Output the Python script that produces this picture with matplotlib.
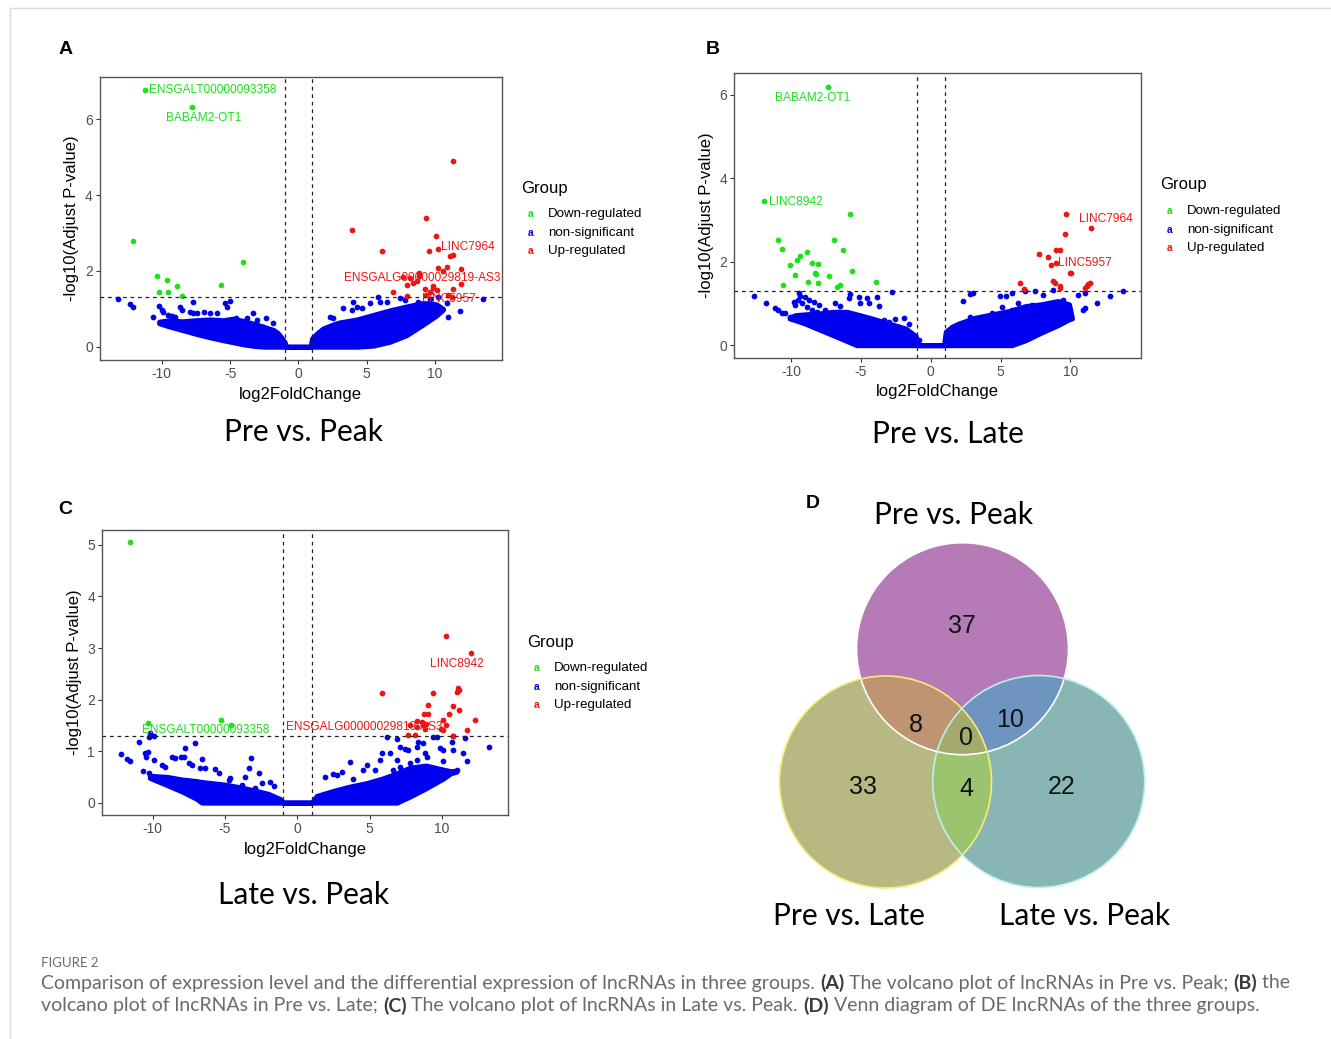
import matplotlib

matplotlib.use("Agg")
import matplotlib.pyplot as plt
import numpy as np

W, H = 1331, 1039
BLUE, GREEN, RED = "#0000F0", "#1EE01E", "#F01414"
FONT = ["Liberation Sans", "DejaVu Sans"]
TITLE_FONT = ["Lato", "DejaVu Sans"]

plt.rcParams["font.family"] = FONT
plt.rcParams["axes.unicode_minus"] = False

# ---- panel A: Pre vs. Peak ----
A_CORE_X = [-10.2, -9.5, -8.5, -7.5, -6.5, -5.5, -4.8, -4.0, -3.2, -2.5, -1.8, -1.4, -1.0, -0.9,
            0.0, 0.9, 1.0, 1.4, 1.8, 2.5, 3.0, 4.3, 5.5, 6.7, 7.9, 9.2, 10.1, 10.6]
A_CORE_HI = [0.66, 0.70, 0.67, 0.70, 0.72, 0.70, 0.74, 0.68, 0.60, 0.52, 0.44, 0.32, 0.12, 0.0,
             0.0, 0.0, 0.22, 0.36, 0.48, 0.58, 0.64, 0.72, 0.84, 0.96, 1.06, 1.16, 1.12, 1.00]
A_CORE_LO = [0.62, 0.54, 0.44, 0.34, 0.25, 0.17, 0.12, 0.06, 0.02, 0.0, 0.0, 0.0, 0.0, 0.0,
             0.0, 0.0, 0.0, 0.0, 0.0, 0.0, 0.0, 0.0, 0.03, 0.13, 0.30, 0.60, 0.82, 0.98]
A_BLUE_X = [-13.19, -12.33, -12.13, -10.62, -10.18, -10.00, -9.89, -9.52, -9.27, -9.03, -8.67,
            -8.54, -7.93, -7.69, -7.74, -7.44, -6.89, -6.47, -5.98, -5.37, -5.25, -5.00, -4.56,
            -3.78, -3.34, -3.05, -2.37, -1.88, -2.56, -2.31, -1.58,
            4.03, 4.28, 4.64, 5.25, 5.86, 5.99, 6.48, 2.32, 2.56, 3.30, 3.91, 7.45, 7.82, 11.85,
            13.55, 10.87, 8.79, 9.65, 6.72, 7.45, 10.99, 9.04, 9.89, 10.26]
A_BLUE_Y = [1.26, 1.13, 1.06, 0.78, 1.07, 0.97, 0.92, 0.84, 0.81, 0.78, 1.06,
            0.97, 0.92, 0.88, 1.19, 0.88, 0.92, 0.88, 0.90, 1.15, 1.06, 1.21, 0.75,
            0.75, 0.88, 0.70, 0.75, 0.62, 0.53, 0.44, 0.35,
            1.19, 1.06, 1.01, 1.15, 1.32, 1.19, 1.19, 0.79, 0.77, 1.01, 0.97, 1.28, 1.23, 0.94,
            1.25, 1.15, 1.19, 1.25, 0.92, 0.88, 0.79, 1.10, 1.10, 1.32]
A_GREEN_X = [-11.23, -7.81, -12.09, -10.37, -9.60, -8.86, -10.18, -9.52, -8.54, -5.69, -4.03]
A_GREEN_Y = [6.77, 6.33, 2.80, 1.87, 1.76, 1.60, 1.45, 1.43, 1.35, 1.63, 2.24]
A_RED_X = [11.36, 9.33, 10.09, 3.91, 6.11, 9.58, 10.26, 11.11, 11.36, 10.26, 10.62, 10.92,
           11.92, 11.92, 8.87, 8.87, 7.69, 8.18, 8.42, 8.67, 7.94, 6.96, 7.94, 9.28, 9.65,
           9.89, 10.14, 11.36, 10.99, 11.24, 9.85, 9.36]
A_RED_Y = [4.90, 3.40, 2.93, 3.08, 2.53, 2.53, 2.59, 2.40, 2.42, 2.08, 2.00, 2.09,
           2.05, 1.65, 1.95, 1.87, 1.85, 1.80, 1.67, 1.72, 1.63, 1.45, 1.35, 1.51, 1.45,
           1.54, 1.50, 1.52, 1.36, 1.32, 1.60, 1.36]
A_LABELS = [("ENSGALT00000093358", -10.95, 6.77, "left", GREEN),
            ("BABAM2-OT1", -6.96, 6.03, "center", GREEN),
            ("LINC7964", 10.45, 2.64, "left", RED),
            ("ENSGALG00000029819-AS3", 3.37, 1.80, "left", RED),
            ("LINC5957", 9.04, 1.25, "left", RED)]

# ---- panel B: Pre vs. Late ----
B_CORE_X = [-10.1, -9.7, -9.0, -8.0, -7.0, -6.0, -5.3, -4.2, -3.0, -1.8, -1.08, -0.95, 0.0,
            0.95, 1.07, 1.5, 2.0, 3.2, 4.4, 5.6, 5.8, 6.8, 7.9, 9.1, 9.9, 10.1]
B_CORE_HI = [0.66, 0.72, 0.74, 0.76, 0.80, 0.80, 0.74, 0.64, 0.52, 0.40, 0.22, 0.0, 0.0,
             0.0, 0.32, 0.44, 0.52, 0.66, 0.74, 0.82, 0.84, 0.94, 0.98, 1.06, 0.98, 0.66]
B_CORE_LO = [0.64, 0.60, 0.52, 0.38, 0.24, 0.10, 0.0, 0.0, 0.0, 0.0, 0.0, 0.0, 0.0,
             0.0, 0.0, 0.0, 0.0, 0.0, 0.0, 0.0, 0.0, 0.12, 0.30, 0.48, 0.62, 0.64]
B_BLUE_X = [-12.67, -11.77, -11.12, -10.93, -10.64, -10.40, -10.05, -9.45, -9.33, -9.50, -9.21,
            -8.85, -8.50, -8.14, -9.81, -9.69, -8.98, -8.69, -8.38, -8.02, -7.54, -6.83, -6.47,
            -6.59, -5.75, -5.87, -5.15, -5.04, -4.56, -4.44, -3.72, -3.84, -2.77, -3.37, -3.01,
            -2.53, -1.93, -1.57, -2.29, -0.86,
            2.33, 2.81, 3.05, 2.81, 3.17, 2.69, 4.96, 5.39, 5.84, 6.75, 7.47, 8.06, 8.78, 10.57,
            11.05, 12.83, 13.74, 11.93, 10.93, 11.05, 9.85, 6.27, 7.23, 5.08, 5.80, 4.37, 7.95,
            8.90, 9.49]
B_BLUE_Y = [1.18, 1.02, 0.90, 0.85, 0.78, 0.76, 0.68, 1.24, 1.18, 1.08, 1.00,
            0.92, 0.84, 0.80, 1.04, 0.96, 1.16, 1.08, 1.04, 0.96, 0.84, 1.00, 0.94,
            0.80, 1.22, 1.12, 1.16, 1.00, 1.14, 1.00, 0.94, 1.16, 1.28, 0.60, 0.56,
            0.64, 0.66, 0.52, 0.44, 0.12,
            1.06, 1.22, 1.26, 0.68, 0.60, 0.52, 1.18, 1.18, 1.26, 1.30, 1.30, 1.20, 1.32, 1.20,
            1.24, 1.18, 1.30, 1.02, 0.84, 0.88, 0.76, 1.00, 0.96, 0.92, 0.84, 0.76, 0.84,
            0.92, 1.08]
B_GREEN_X = [-7.37, -11.93, -5.75, -10.91, -6.92, -10.64, -6.26, -8.88, -9.36, -9.59, -10.07,
             -8.52, -8.04, -8.28, -8.21, -9.71, -7.26, -5.61, -10.55, -8.76, -8.04, -6.73,
             -6.49, -3.94]
B_GREEN_Y = [6.18, 3.46, 3.14, 2.52, 2.52, 2.30, 2.28, 2.24, 2.14, 2.04, 1.92,
             1.98, 1.94, 1.74, 1.70, 1.68, 1.66, 1.78, 1.44, 1.52, 1.50, 1.40,
             1.44, 1.52]
B_RED_X = [9.69, 11.45, 9.61, 7.75, 8.95, 9.26, 8.42, 8.95, 8.61, 9.97, 10.04, 6.39, 6.70,
           8.78, 8.90, 9.26, 9.26, 11.17, 11.28, 11.40, 11.05]
B_RED_Y = [3.14, 2.82, 2.66, 2.18, 2.28, 2.28, 2.12, 1.96, 1.92, 1.74, 1.72, 1.48, 1.35,
           1.54, 1.50, 1.42, 1.36, 1.42, 1.46, 1.48, 1.38]
B_LABELS = [("BABAM2-OT1", -8.47, 5.92, "center", GREEN),
            ("LINC8942", -11.57, 3.44, "left", GREEN),
            ("LINC7964", 10.62, 3.02, "left", RED),
            ("LINC5957", 9.14, 1.96, "left", RED)]

# ---- panel C: Late vs. Peak ----
C_CORE_X = [-10.2, -9.0, -8.0, -7.0, -6.6, -5.0, -4.0, -3.0, -2.0, -1.2, -1.0, 0.0, 1.0, 1.34,
            2.5, 3.6, 4.8, 5.9, 6.9, 7.1, 7.8, 8.9, 10.1, 10.6, 11.0]
C_CORE_HI = [0.52, 0.50, 0.45, 0.42, 0.40, 0.35, 0.30, 0.24, 0.17, 0.07, 0.0, 0.0, 0.0, 0.13,
             0.23, 0.31, 0.38, 0.47, 0.57, 0.60, 0.68, 0.72, 0.64, 0.61, 0.62]
C_CORE_LO = [0.48, 0.34, 0.22, 0.08, 0.0, 0.0, 0.0, 0.0, 0.0, 0.0, 0.0, 0.0, 0.0, 0.0,
             0.0, 0.0, 0.0, 0.0, 0.0, 0.03, 0.12, 0.28, 0.47, 0.57, 0.60]
C_BLUE_X = [-10.96, -10.27, -9.88, -10.16, -12.16, -11.77, -11.54, -10.55, -10.34, -10.46,
            -9.93, -10.66, -10.27, -9.93, -9.70, -9.35, -9.12, -8.66, -8.43, -8.02, -7.85,
            -7.74, -7.09, -7.46, -7.28, -6.59, -6.70, -6.40, -5.67, -5.43, -4.63, -4.74,
            -3.36, -3.20, -2.67, -1.87, -2.44, -1.63, -3.59, -3.82, -2.90, -1.29,
            6.22, 6.87, 7.10, 5.83, 6.41, 7.44, 7.67, 8.25, 8.36, 8.71, 8.94, 8.83, 9.40, 9.63,
            9.86, 10.09, 10.67, 10.78, 11.59, 11.47, 11.75, 13.25, 10.09, 11.02, 3.64, 3.07,
            4.80, 1.91, 2.49, 3.87, 4.56, 5.37, 5.72, 6.63, 7.10, 7.79, 8.25, 6.87, 10.78, 2.72]
C_BLUE_Y = [1.18, 1.28, 1.29, 1.35, 0.94, 0.84, 0.81, 0.96, 0.98, 0.89,
            0.83, 0.62, 0.57, 0.49, 0.44, 0.73, 0.70, 0.89, 0.86, 0.89, 0.89,
            1.06, 1.15, 0.76, 0.73, 0.84, 0.67, 0.67, 0.65, 0.57, 0.47, 0.44,
            0.67, 0.86, 0.58, 0.41, 0.38, 0.32, 0.50, 0.34, 0.28, 0.07,
            1.28, 1.23, 1.08, 0.96, 0.96, 1.04, 1.02, 1.08, 1.18, 1.16, 0.89, 0.96, 1.28, 1.27,
            1.06, 1.02, 1.18, 1.02, 1.25, 0.96, 0.80, 1.07, 0.80, 0.63, 0.78, 0.60,
            0.73, 0.49, 0.55, 0.46, 0.63, 0.63, 0.83, 0.63, 0.70, 0.76, 0.83, 0.83, 1.30, 0.54]
C_GREEN_X = [-11.56, -10.30, -5.29, -4.58]
C_GREEN_Y = [5.05, 1.55, 1.60, 1.50]
C_RED_X = [10.28, 11.98, 5.83, 9.36, 11.13, 11.17, 11.06, 9.05, 10.74, 10.48, 11.20, 8.76,
           9.05, 12.28, 8.25, 8.60, 8.71, 8.89, 8.25, 7.79, 8.83, 10.09, 10.28, 9.91, 10.09,
           11.71, 10.74, 7.67, 8.13]
C_RED_Y = [3.24, 2.90, 2.12, 2.12, 2.22, 2.19, 2.15, 1.90, 1.88, 1.72, 1.80, 1.72,
           1.72, 1.60, 1.59, 1.57, 1.51, 1.53, 1.47, 1.51, 1.42, 1.60, 1.51, 1.42, 1.40,
           1.41, 1.30, 1.31, 1.31]
C_LABELS = [("ENSGALT00000093358", -10.75, 1.41, "left", GREEN),
            ("ENSGALG00000029819-AS3", -0.78, 1.47, "left", RED),
            ("LINC8942", 9.17, 2.69, "left", RED)]

# ---- panel D: Venn ----
VENN_SETS = ["Pre vs. Peak", "Pre vs. Late", "Late vs. Peak"]
VENN_ONLY = [37, 33, 22]
VENN_PAIRS = [8, 10, 4]  # Peak&PreLate, Peak&LatePeak, PreLate&LatePeak
VENN_ALL = 0

LEGEND_ITEMS = [("Down-regulated", GREEN), ("non-significant", BLUE), ("Up-regulated", RED)]


def px_axes(fig, left, top, right, bottom):
    return fig.add_axes([left / W, 1 - bottom / H, (right - left) / W, (bottom - top) / H])


def ftext(fig, x, y, s, **kw):
    return fig.text(x / W, 1 - y / H, s, **kw)


def volcano(ax, xlim, ylim, yticks, core, blue, green, red, labels):
    cx, chi, clo = core
    ax.fill_between(cx, clo, chi, color=BLUE, linewidth=3.6, edgecolor=BLUE, zorder=2)
    ax.scatter(blue[0], blue[1], s=17, color=BLUE, linewidths=0, zorder=3)
    ax.scatter(green[0], green[1], s=17, color=GREEN, linewidths=0, zorder=3)
    ax.scatter(red[0], red[1], s=17, color=RED, linewidths=0, zorder=3)
    dash = dict(color="#222222", linewidth=0.9, linestyle=(0, (3, 3)), zorder=4)
    ax.axvline(-1, **dash)
    ax.axvline(1, **dash)
    ax.axhline(-np.log10(0.05), **dash)
    for text, x, y, ha, col in labels:
        ax.text(x, y, text, color=col, fontsize=8.6, ha=ha, va="center", zorder=5)
    ax.set_xlim(*xlim)
    ax.set_ylim(*ylim)
    ax.set_xticks([-10, -5, 0, 5, 10])
    ax.set_yticks(yticks)
    ax.tick_params(length=3.2, width=0.8, color="#333333", labelcolor="#4D4D4D",
                   labelsize=10, pad=2)
    for sp in ax.spines.values():
        sp.set_color("#555555")
        sp.set_linewidth(1.0)
    ax.set_xlabel("log2FoldChange", fontsize=12, labelpad=4)
    ax.set_ylabel("-log10(Adjust P-value)", fontsize=12, labelpad=4)


def group_legend(fig, x, y):
    ftext(fig, x, y, "Group", fontsize=12, va="center")
    for i, (name, col) in enumerate(LEGEND_ITEMS):
        yy = y + 26 + i * 18.7
        ftext(fig, x + 10, yy, "a", color=col, fontsize=7.5, fontweight="bold",
              ha="center", va="center")
        ftext(fig, x + 27, yy, name, fontsize=9.6, va="center")


def venn(fig):
    ax = px_axes(fig, 770, 535, 1160, 895)
    ax.set_xlim(770, 1160)
    ax.set_ylim(895, 535)
    ax.axis("off")
    r = 106
    centers = [(962.5, 648.7), (885.5, 782.0), (1038.7, 781.5)]
    xs = np.linspace(770, 1160, 1170)
    ys = np.linspace(535, 895, 1080)
    gx, gy = np.meshgrid(xs, ys)
    inside = [(gx - cx) ** 2 + (gy - cy) ** 2 <= r * r for cx, cy in centers]
    img = np.ones(gx.shape + (4,))
    img[..., 3] = 0
    colours = {
        (1, 0, 0): "#B77BB7", (0, 1, 0): "#B9B983", (0, 0, 1): "#87B6B4",
        (1, 1, 0): "#BE9574", (1, 0, 1): "#6E95C0", (0, 1, 1): "#9CC46E",
        (1, 1, 1): "#A3AA6C",
    }
    for key, col in colours.items():
        mask = np.ones(gx.shape, bool)
        for flag, m in zip(key, inside):
            mask &= m if flag else ~m
        img[mask] = matplotlib.colors.to_rgba(col)
    ax.imshow(img, extent=(770, 1160, 895, 535), origin="upper", interpolation="bilinear",
              aspect="auto", zorder=1)
    for (cx, cy), ec in zip(centers, ["#FFFFFF", "#F4EE78", "#BDEFEF"]):
        ax.add_patch(plt.Circle((cx, cy), r, fill=False, ec=ec, lw=1.2, zorder=2))
    num = dict(fontsize=18, ha="center", va="center", color="#111111", zorder=3)
    ax.text(962.3, 625.7, str(VENN_ONLY[0]), **num)
    ax.text(863.3, 787.3, str(VENN_ONLY[1]), **num)
    ax.text(1061.7, 787.3, str(VENN_ONLY[2]), **num)
    ax.text(915.7, 725.0, str(VENN_PAIRS[0]), **num)
    ax.text(1010.0, 720.0, str(VENN_PAIRS[1]), **num)
    ax.text(966.0, 789.3, str(VENN_PAIRS[2]), **num)
    ax.text(966.0, 737.7, str(VENN_ALL), **num)
    title = dict(fontsize=21.5, ha="center", va="center", family=TITLE_FONT)
    ftext(fig, 953.3, 515, VENN_SETS[0], **title)
    ftext(fig, 849.0, 916, VENN_SETS[1], **title)
    ftext(fig, 1084.7, 916, VENN_SETS[2], **title)


def caption(fig):
    renderer = fig.canvas.get_renderer()
    grey = "#6A6A6A"
    ftext(fig, 41, 963, "FIGURE 2", fontsize=9.5, color="#6A6A6A", va="center",
          family=TITLE_FONT)
    lines = [
        (983, [("Comparison of expression level and the differential expression of lncRNAs in "
                "three groups. ", False), ("(A)", True),
               (" The volcano plot of lncRNAs in Pre vs. Peak; ", False), ("(B)", True),
               (" the", False)]),
        (1006, [("volcano plot of lncRNAs in Pre vs. Late; ", False), ("(C)", True),
                (" The volcano plot of lncRNAs in Late vs. Peak. ", False), ("(D)", True),
                (" Venn diagram of DE lncRNAs of the three groups.", False)]),
    ]
    for y, parts in lines:
        x = 41
        for s, bold in parts:
            t = ftext(fig, x, y, s, fontsize=14, color="#3A3A3A" if bold else grey,
                      fontweight="bold" if bold else "normal", va="center",
                      family=TITLE_FONT)
            bb = t.get_window_extent(renderer)
            x = bb.x1


def main():
    fig = plt.figure(figsize=(W / 100, H / 100), dpi=100)
    fig.patch.set_facecolor("white")
    # page frame
    fig.add_artist(plt.Line2D([10 / W, 1], [1 - 8 / H, 1 - 8 / H], color="#D9D9D9", lw=1))
    fig.add_artist(plt.Line2D([10 / W, 10 / W], [0, 1 - 8 / H], color="#D9D9D9", lw=1))

    ax_a = px_axes(fig, 100, 76.7, 501.7, 360)
    volcano(ax_a, (-14.53, 14.9), (-0.35, 7.12), [0, 2, 4, 6],
            (A_CORE_X, A_CORE_HI, A_CORE_LO), (A_BLUE_X, A_BLUE_Y),
            (A_GREEN_X, A_GREEN_Y), (A_RED_X, A_RED_Y), A_LABELS)
    ax_b = px_axes(fig, 734.3, 73.3, 1141, 357.7)
    volcano(ax_b, (-14.06, 15.05), (-0.30, 6.52), [0, 2, 4, 6],
            (B_CORE_X, B_CORE_HI, B_CORE_LO), (B_BLUE_X, B_BLUE_Y),
            (B_GREEN_X, B_GREEN_Y), (B_RED_X, B_RED_Y), B_LABELS)
    ax_c = px_axes(fig, 102.3, 530, 507.7, 815)
    volcano(ax_c, (-13.48, 14.54), (-0.24, 5.29), [0, 1, 2, 3, 4, 5],
            (C_CORE_X, C_CORE_HI, C_CORE_LO), (C_BLUE_X, C_BLUE_Y),
            (C_GREEN_X, C_GREEN_Y), (C_RED_X, C_RED_Y), C_LABELS)

    group_legend(fig, 521, 188)
    group_legend(fig, 1160, 185)
    group_legend(fig, 527, 642)

    letter = dict(fontsize=14, fontweight="bold", va="center", ha="center")
    ftext(fig, 66, 50, "A", **letter)
    ftext(fig, 713, 50, "B", **letter)
    ftext(fig, 65, 509, "C", **letter)
    ftext(fig, 813, 504, "D", **letter)

    title = dict(fontsize=21.5, ha="center", va="center", family=TITLE_FONT)
    ftext(fig, 304, 432, "Pre vs. Peak", **title)
    ftext(fig, 948, 434, "Pre vs. Late", **title)
    ftext(fig, 304, 895, "Late vs. Peak", **title)

    venn(fig)
    caption(fig)
    fig.savefig("out.png", dpi=100)
    plt.close(fig)


if __name__ == "__main__":
    main()
